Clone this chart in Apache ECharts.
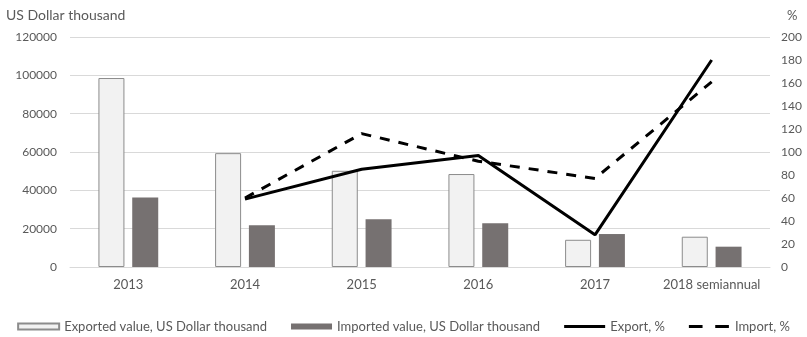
<!DOCTYPE html>
<html><head><meta charset="utf-8">
<script src="https://cdn.jsdelivr.net/npm/echarts@6/dist/echarts.min.js"></script>
<style>html,body{margin:0;padding:0;background:#fff}#c{width:807px;height:337px}</style>
</head><body><div id="c"></div>
<script>
const categories = ['2013','2014','2015','2016','2017','2018 semiannual'];
const exportedValue = [98600, 59400, 50200, 48500, 14200, 15800];
const importedValue = [36200, 21800, 24900, 22800, 17200, 10600];
const exportPct = [null, 59, 85, 97, 28, 180];
const importPct = [null, 60, 116, 92, 77, 161];
const leftTicks = {min: 0, max: 120000, interval: 20000};
const rightTicks = {min: 0, max: 200, interval: 20};

const font = 'Lato';
const solidIcon = 'path://M0,0 M42,6 M0,1.5 L42,1.5 L42,4.5 L0,4.5 Z';
const dashIcon = 'path://M0,0 M42,6 M0,1.5 L14,1.5 L14,4.5 L0,4.5 Z M27,1.5 L41,1.5 L41,4.5 L27,4.5 Z';
const chart = echarts.init(document.getElementById('c'));
chart.setOption({
  animation: false,
  textStyle: {fontFamily: font},
  grid: {left: 70, right: 37, top: 37, bottom: 70},
  legend: {
    bottom: -1, left: 'center', itemGap: 24, itemWidth: 41, itemHeight: 6,
    textStyle: {fontFamily: font, fontSize: 13, color: '#595959'},
    data: [
      {name: 'Exported value, US Dollar thousand', icon: 'rect'},
      {name: 'Imported value, US Dollar thousand', icon: 'rect'},
      {name: 'Export, %', icon: solidIcon, itemStyle: {color: '#000', borderWidth: 0}},
      {name: 'Import, %', icon: dashIcon, itemStyle: {color: '#000', borderWidth: 0}}
    ]
  },
  xAxis: {
    type: 'category', data: categories,
    axisLine: {lineStyle: {color: '#d9d9d9'}},
    axisTick: {show: false},
    axisLabel: {color: '#595959', fontSize: 13, fontFamily: font, margin: 11, interval: 0}
  },
  yAxis: [
    {type: 'value', min: leftTicks.min, max: leftTicks.max, interval: leftTicks.interval,
     name: 'US Dollar thousand', nameLocation: 'end', nameGap: 15,
     nameTextStyle: {color: '#595959', fontSize: 14, fontFamily: font, align: 'left', padding: [0,0,0,-64]},
     axisLine: {show: false}, axisTick: {show: false},
     axisLabel: {color: '#595959', fontSize: 12, fontFamily: font, margin: 13, formatter: v => String(v)},
     splitLine: {lineStyle: {color: '#d9d9d9'}}},
    {type: 'value', min: rightTicks.min, max: rightTicks.max, interval: rightTicks.interval,
     name: '%', nameLocation: 'end', nameGap: 15,
     nameTextStyle: {color: '#595959', fontSize: 13, fontFamily: font, align: 'left', padding: [0,0,0,17]},
     axisLine: {show: false}, axisTick: {show: false},
     axisLabel: {color: '#595959', fontSize: 12, fontFamily: font, margin: 11},
     splitLine: {show: false}}
  ],
  series: [
    {name: 'Exported value, US Dollar thousand', type: 'bar', data: exportedValue,
     barWidth: 26, barGap: '30%',
     itemStyle: {color: '#f2f2f2', borderColor: '#8c8c8c', borderWidth: 1}},
    {name: 'Imported value, US Dollar thousand', type: 'bar', data: importedValue,
     barWidth: 26,
     itemStyle: {color: '#767171'}},
    {name: 'Export, %', type: 'line', yAxisIndex: 1, data: exportPct,
     symbol: 'none', itemStyle: {color: '#000'}, lineStyle: {color: '#000', width: 3}},
    {name: 'Import, %', type: 'line', yAxisIndex: 1, data: importPct,
     symbol: 'none', itemStyle: {color: '#000'}, lineStyle: {color: '#000', width: 3, type: [10, 9]}}
  ]
});
</script></body></html>
